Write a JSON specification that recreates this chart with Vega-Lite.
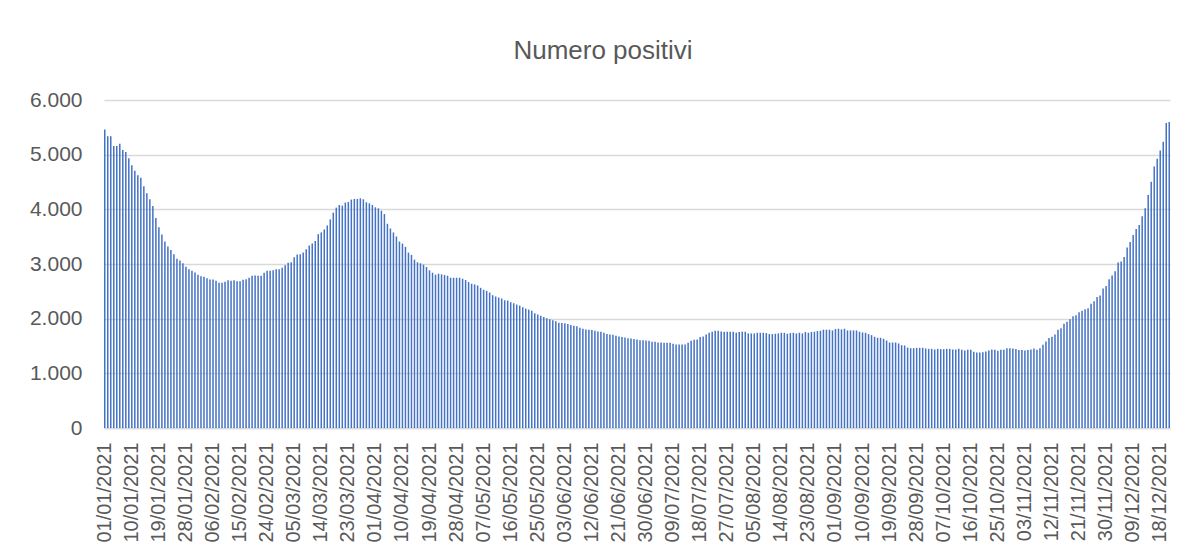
{
"$schema": "https://vega.github.io/schema/vega-lite/v6.json",
"width": 1066,
"height": 328,
"autosize": "none",
"padding": {"left": 104, "top": 100, "right": 19, "bottom": 126},
"background": "white",
"title": {"text": "Numero positivi", "font": "Liberation Sans", "fontSize": 26, "fontWeight": "normal", "color": "#595959", "anchor": "middle", "dx": -34, "offset": 25},
"data": {"values": [
{"d":"01/01/2021","v":5460},{"d":"02/01/2021","v":5337},{"d":"03/01/2021","v":5337},{"d":"04/01/2021","v":5160},{"d":"05/01/2021","v":5160},{"d":"06/01/2021","v":5200},{"d":"07/01/2021","v":5085},{"d":"08/01/2021","v":5049},{"d":"09/01/2021","v":4933},{"d":"10/01/2021","v":4805},{"d":"11/01/2021","v":4708},{"d":"12/01/2021","v":4622},{"d":"13/01/2021","v":4580},{"d":"14/01/2021","v":4421},{"d":"15/01/2021","v":4293},{"d":"16/01/2021","v":4184},{"d":"17/01/2021","v":4062},{"d":"18/01/2021","v":3843},{"d":"19/01/2021","v":3672},{"d":"20/01/2021","v":3538},{"d":"21/01/2021","v":3410},{"d":"22/01/2021","v":3319},{"d":"23/01/2021","v":3258},{"d":"24/01/2021","v":3179},{"d":"25/01/2021","v":3094},{"d":"26/01/2021","v":3063},{"d":"27/01/2021","v":3015},{"d":"28/01/2021","v":2948},{"d":"29/01/2021","v":2905},{"d":"30/01/2021","v":2875},{"d":"31/01/2021","v":2844},
{"d":"01/02/2021","v":2802},{"d":"02/02/2021","v":2777},{"d":"03/02/2021","v":2765},{"d":"04/02/2021","v":2741},{"d":"05/02/2021","v":2716},{"d":"06/02/2021","v":2716},{"d":"07/02/2021","v":2692},{"d":"08/02/2021","v":2655},{"d":"09/02/2021","v":2655},{"d":"10/02/2021","v":2674},{"d":"11/02/2021","v":2704},{"d":"12/02/2021","v":2692},{"d":"13/02/2021","v":2704},{"d":"14/02/2021","v":2686},{"d":"15/02/2021","v":2686},{"d":"16/02/2021","v":2710},{"d":"17/02/2021","v":2722},{"d":"18/02/2021","v":2747},{"d":"19/02/2021","v":2783},{"d":"20/02/2021","v":2789},{"d":"21/02/2021","v":2783},{"d":"22/02/2021","v":2783},{"d":"23/02/2021","v":2838},{"d":"24/02/2021","v":2875},{"d":"25/02/2021","v":2875},{"d":"26/02/2021","v":2887},{"d":"27/02/2021","v":2902},{"d":"28/02/2021","v":2902},
{"d":"01/03/2021","v":2933},{"d":"02/03/2021","v":2975},{"d":"03/03/2021","v":3025},{"d":"04/03/2021","v":3031},{"d":"05/03/2021","v":3123},{"d":"06/03/2021","v":3172},{"d":"07/03/2021","v":3178},{"d":"08/03/2021","v":3209},{"d":"09/03/2021","v":3270},{"d":"10/03/2021","v":3337},{"d":"11/03/2021","v":3374},{"d":"12/03/2021","v":3423},{"d":"13/03/2021","v":3546},{"d":"14/03/2021","v":3577},{"d":"15/03/2021","v":3632},{"d":"16/03/2021","v":3706},{"d":"17/03/2021","v":3816},{"d":"18/03/2021","v":3939},{"d":"19/03/2021","v":4031},{"d":"20/03/2021","v":4080},{"d":"21/03/2021","v":4067},{"d":"22/03/2021","v":4123},{"d":"23/03/2021","v":4135},{"d":"24/03/2021","v":4178},{"d":"25/03/2021","v":4190},{"d":"26/03/2021","v":4190},{"d":"27/03/2021","v":4202},{"d":"28/03/2021","v":4184},{"d":"29/03/2021","v":4129},{"d":"30/03/2021","v":4110},{"d":"31/03/2021","v":4080},
{"d":"01/04/2021","v":4037},{"d":"02/04/2021","v":4018},{"d":"03/04/2021","v":3975},{"d":"04/04/2021","v":3914},{"d":"05/04/2021","v":3736},{"d":"06/04/2021","v":3650},{"d":"07/04/2021","v":3577},{"d":"08/04/2021","v":3503},{"d":"09/04/2021","v":3411},{"d":"10/04/2021","v":3374},{"d":"11/04/2021","v":3313},{"d":"12/04/2021","v":3209},{"d":"13/04/2021","v":3166},{"d":"14/04/2021","v":3080},{"d":"15/04/2021","v":3031},{"d":"16/04/2021","v":3012},{"d":"17/04/2021","v":2988},{"d":"18/04/2021","v":2945},{"d":"19/04/2021","v":2883},{"d":"20/04/2021","v":2840},{"d":"21/04/2021","v":2804},{"d":"22/04/2021","v":2822},{"d":"23/04/2021","v":2810},{"d":"24/04/2021","v":2798},{"d":"25/04/2021","v":2785},{"d":"26/04/2021","v":2748},{"d":"27/04/2021","v":2748},{"d":"28/04/2021","v":2748},{"d":"29/04/2021","v":2748},{"d":"30/04/2021","v":2730},
{"d":"01/05/2021","v":2706},{"d":"02/05/2021","v":2669},{"d":"03/05/2021","v":2638},{"d":"04/05/2021","v":2626},{"d":"05/05/2021","v":2607},{"d":"06/05/2021","v":2564},{"d":"07/05/2021","v":2528},{"d":"08/05/2021","v":2509},{"d":"09/05/2021","v":2479},{"d":"10/05/2021","v":2429},{"d":"11/05/2021","v":2405},{"d":"12/05/2021","v":2387},{"d":"13/05/2021","v":2368},{"d":"14/05/2021","v":2337},{"d":"15/05/2021","v":2331},{"d":"16/05/2021","v":2301},{"d":"17/05/2021","v":2282},{"d":"18/05/2021","v":2258},{"d":"19/05/2021","v":2239},{"d":"20/05/2021","v":2209},{"d":"21/05/2021","v":2184},{"d":"22/05/2021","v":2166},{"d":"23/05/2021","v":2147},{"d":"24/05/2021","v":2098},{"d":"25/05/2021","v":2074},{"d":"26/05/2021","v":2055},{"d":"27/05/2021","v":2031},{"d":"28/05/2021","v":2006},{"d":"29/05/2021","v":1988},{"d":"30/05/2021","v":1969},{"d":"31/05/2021","v":1951},
{"d":"01/06/2021","v":1926},{"d":"02/06/2021","v":1920},{"d":"03/06/2021","v":1914},{"d":"04/06/2021","v":1902},{"d":"05/06/2021","v":1883},{"d":"06/06/2021","v":1871},{"d":"07/06/2021","v":1859},{"d":"08/06/2021","v":1834},{"d":"09/06/2021","v":1816},{"d":"10/06/2021","v":1804},{"d":"11/06/2021","v":1798},{"d":"12/06/2021","v":1791},{"d":"13/06/2021","v":1779},{"d":"14/06/2021","v":1767},{"d":"15/06/2021","v":1761},{"d":"16/06/2021","v":1742},{"d":"17/06/2021","v":1718},{"d":"18/06/2021","v":1712},{"d":"19/06/2021","v":1706},{"d":"20/06/2021","v":1687},{"d":"21/06/2021","v":1675},{"d":"22/06/2021","v":1663},{"d":"23/06/2021","v":1656},{"d":"24/06/2021","v":1644},{"d":"25/06/2021","v":1638},{"d":"26/06/2021","v":1626},{"d":"27/06/2021","v":1620},{"d":"28/06/2021","v":1607},{"d":"29/06/2021","v":1607},{"d":"30/06/2021","v":1601},
{"d":"01/07/2021","v":1595},{"d":"02/07/2021","v":1577},{"d":"03/07/2021","v":1577},{"d":"04/07/2021","v":1564},{"d":"05/07/2021","v":1564},{"d":"06/07/2021","v":1558},{"d":"07/07/2021","v":1558},{"d":"08/07/2021","v":1558},{"d":"09/07/2021","v":1540},{"d":"10/07/2021","v":1528},{"d":"11/07/2021","v":1528},{"d":"12/07/2021","v":1528},{"d":"13/07/2021","v":1528},{"d":"14/07/2021","v":1558},{"d":"15/07/2021","v":1595},{"d":"16/07/2021","v":1613},{"d":"17/07/2021","v":1620},{"d":"18/07/2021","v":1663},{"d":"19/07/2021","v":1675},{"d":"20/07/2021","v":1712},{"d":"21/07/2021","v":1742},{"d":"22/07/2021","v":1761},{"d":"23/07/2021","v":1779},{"d":"24/07/2021","v":1779},{"d":"25/07/2021","v":1767},{"d":"26/07/2021","v":1761},{"d":"27/07/2021","v":1761},{"d":"28/07/2021","v":1761},{"d":"29/07/2021","v":1761},{"d":"30/07/2021","v":1742},{"d":"31/07/2021","v":1755},
{"d":"01/08/2021","v":1761},{"d":"02/08/2021","v":1761},{"d":"03/08/2021","v":1730},{"d":"04/08/2021","v":1730},{"d":"05/08/2021","v":1730},{"d":"06/08/2021","v":1742},{"d":"07/08/2021","v":1742},{"d":"08/08/2021","v":1742},{"d":"09/08/2021","v":1736},{"d":"10/08/2021","v":1718},{"d":"11/08/2021","v":1718},{"d":"12/08/2021","v":1724},{"d":"13/08/2021","v":1730},{"d":"14/08/2021","v":1742},{"d":"15/08/2021","v":1742},{"d":"16/08/2021","v":1724},{"d":"17/08/2021","v":1736},{"d":"18/08/2021","v":1742},{"d":"19/08/2021","v":1730},{"d":"20/08/2021","v":1742},{"d":"21/08/2021","v":1730},{"d":"22/08/2021","v":1755},{"d":"23/08/2021","v":1742},{"d":"24/08/2021","v":1755},{"d":"25/08/2021","v":1761},{"d":"26/08/2021","v":1773},{"d":"27/08/2021","v":1779},{"d":"28/08/2021","v":1798},{"d":"29/08/2021","v":1798},{"d":"30/08/2021","v":1798},{"d":"31/08/2021","v":1785},
{"d":"01/09/2021","v":1810},{"d":"02/09/2021","v":1816},{"d":"03/09/2021","v":1804},{"d":"04/09/2021","v":1816},{"d":"05/09/2021","v":1785},{"d":"06/09/2021","v":1785},{"d":"07/09/2021","v":1785},{"d":"08/09/2021","v":1785},{"d":"09/09/2021","v":1761},{"d":"10/09/2021","v":1748},{"d":"11/09/2021","v":1742},{"d":"12/09/2021","v":1718},{"d":"13/09/2021","v":1699},{"d":"14/09/2021","v":1669},{"d":"15/09/2021","v":1650},{"d":"16/09/2021","v":1650},{"d":"17/09/2021","v":1632},{"d":"18/09/2021","v":1601},{"d":"19/09/2021","v":1564},{"d":"20/09/2021","v":1564},{"d":"21/09/2021","v":1564},{"d":"22/09/2021","v":1546},{"d":"23/09/2021","v":1515},{"d":"24/09/2021","v":1509},{"d":"25/09/2021","v":1472},{"d":"26/09/2021","v":1460},{"d":"27/09/2021","v":1460},{"d":"28/09/2021","v":1466},{"d":"29/09/2021","v":1466},{"d":"30/09/2021","v":1466},
{"d":"01/10/2021","v":1454},{"d":"02/10/2021","v":1448},{"d":"03/10/2021","v":1448},{"d":"04/10/2021","v":1436},{"d":"05/10/2021","v":1448},{"d":"06/10/2021","v":1442},{"d":"07/10/2021","v":1442},{"d":"08/10/2021","v":1448},{"d":"09/10/2021","v":1448},{"d":"10/10/2021","v":1436},{"d":"11/10/2021","v":1436},{"d":"12/10/2021","v":1448},{"d":"13/10/2021","v":1430},{"d":"14/10/2021","v":1417},{"d":"15/10/2021","v":1430},{"d":"16/10/2021","v":1430},{"d":"17/10/2021","v":1393},{"d":"18/10/2021","v":1380},{"d":"19/10/2021","v":1380},{"d":"20/10/2021","v":1387},{"d":"21/10/2021","v":1399},{"d":"22/10/2021","v":1417},{"d":"23/10/2021","v":1436},{"d":"24/10/2021","v":1430},{"d":"25/10/2021","v":1415},{"d":"26/10/2021","v":1431},{"d":"27/10/2021","v":1431},{"d":"28/10/2021","v":1461},{"d":"29/10/2021","v":1461},{"d":"30/10/2021","v":1455},{"d":"31/10/2021","v":1443},
{"d":"01/11/2021","v":1425},{"d":"02/11/2021","v":1425},{"d":"03/11/2021","v":1419},{"d":"04/11/2021","v":1425},{"d":"05/11/2021","v":1437},{"d":"06/11/2021","v":1455},{"d":"07/11/2021","v":1431},{"d":"08/11/2021","v":1461},{"d":"09/11/2021","v":1523},{"d":"10/11/2021","v":1584},{"d":"11/11/2021","v":1645},{"d":"12/11/2021","v":1670},{"d":"13/11/2021","v":1712},{"d":"14/11/2021","v":1798},{"d":"15/11/2021","v":1823},{"d":"16/11/2021","v":1908},{"d":"17/11/2021","v":1945},{"d":"18/11/2021","v":1988},{"d":"19/11/2021","v":2043},{"d":"20/11/2021","v":2061},{"d":"21/11/2021","v":2116},{"d":"22/11/2021","v":2147},{"d":"23/11/2021","v":2171},{"d":"24/11/2021","v":2190},{"d":"25/11/2021","v":2275},{"d":"26/11/2021","v":2318},{"d":"27/11/2021","v":2398},{"d":"28/11/2021","v":2422},{"d":"29/11/2021","v":2550},{"d":"30/11/2021","v":2599},
{"d":"01/12/2021","v":2722},{"d":"02/12/2021","v":2789},{"d":"03/12/2021","v":2869},{"d":"04/12/2021","v":3028},{"d":"05/12/2021","v":3046},{"d":"06/12/2021","v":3126},{"d":"07/12/2021","v":3303},{"d":"08/12/2021","v":3401},{"d":"09/12/2021","v":3530},{"d":"10/12/2021","v":3640},{"d":"11/12/2021","v":3714},{"d":"12/12/2021","v":3873},{"d":"13/12/2021","v":4020},{"d":"14/12/2021","v":4264},{"d":"15/12/2021","v":4503},{"d":"16/12/2021","v":4784},{"d":"17/12/2021","v":4925},{"d":"18/12/2021","v":5078},{"d":"19/12/2021","v":5237},{"d":"20/12/2021","v":5580},{"d":"21/12/2021","v":5598}
]},
"mark": {"type": "bar", "color": "#4472c4"},
"encoding": {
  "x": {"field": "d", "type": "ordinal", "sort": null,
    "scale": {"paddingInner": 0.5, "paddingOuter": 0},
    "axis": {"title": null,
      "values": ["01/01/2021","10/01/2021","19/01/2021","28/01/2021","06/02/2021","15/02/2021","24/02/2021","05/03/2021","14/03/2021","23/03/2021","01/04/2021","10/04/2021","19/04/2021","28/04/2021","07/05/2021","16/05/2021","25/05/2021","03/06/2021","12/06/2021","21/06/2021","30/06/2021","09/07/2021","18/07/2021","27/07/2021","05/08/2021","14/08/2021","23/08/2021","01/09/2021","10/09/2021","19/09/2021","28/09/2021","07/10/2021","16/10/2021","25/10/2021","03/11/2021","12/11/2021","21/11/2021","30/11/2021","09/12/2021","18/12/2021"],
      "labelAngle": -90, "labelPadding": 14, "labelFont": "Liberation Sans", "labelFontSize": 20, "labelColor": "#595959",
      "labelOverlap": false, "ticks": false, "grid": false, "domainColor": "#d9d9d9", "domainWidth": 1.5}},
  "y": {"field": "v", "type": "quantitative", "scale": {"domain": [0, 6000]},
    "axis": {"title": null, "values": [0, 1000, 2000, 3000, 4000, 5000, 6000],
      "labelExpr": "replace(format(datum.value, ','), ',', '.')",
      "labelFont": "Liberation Sans", "labelFontSize": 21, "labelColor": "#595959", "labelPadding": 22,
      "ticks": false, "domain": false, "grid": true, "gridColor": "#d9d9d9", "gridWidth": 1.5}}
},
"config": {"view": {"stroke": null}}
}
